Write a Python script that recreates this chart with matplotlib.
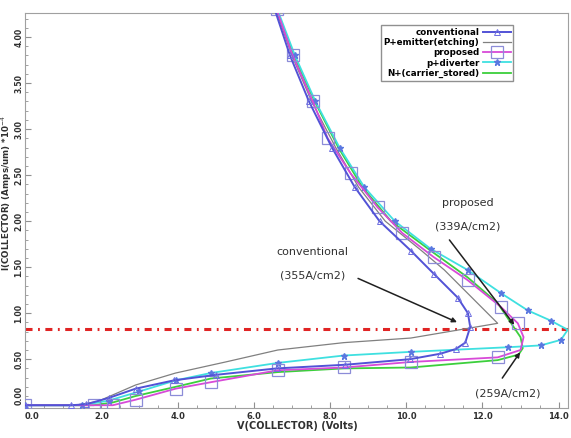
"""
Collector I-V snapback curves for the IGBT variants
"""

import matplotlib
matplotlib.use('Agg')
import matplotlib.pyplot as plt
from matplotlib.ticker import MultipleLocator, FormatStrFormatter

# V(COLLECTOR) in volts, I(COLLECTOR) in 1e-4 A/um, traced low branch -> snapback -> upper branch
conv_v = [0.0, 1.2, 1.6, 2.2, 2.9, 3.9, 5.0, 6.6, 8.4, 10.1, 10.9, 11.3, 11.55,
          11.68, 11.62, 11.35, 10.72, 10.12, 9.3, 8.65, 8.05, 7.45, 6.95, 6.55]
conv_i = [0.0, 0.0, 0.01, 0.08, 0.18, 0.27, 0.33, 0.40, 0.44, 0.50, 0.56, 0.61, 0.68,
          0.85, 1.0, 1.17, 1.43, 1.68, 2.0, 2.37, 2.8, 3.3, 3.8, 4.3]

pemit_v = [0.0, 1.3, 1.9, 2.9, 3.95, 5.26, 6.63, 8.36, 10.12, 12.4,
           11.0, 10.4, 9.45, 8.75, 8.15, 7.52, 7.0, 6.58]
pemit_i = [0.0, 0.0, 0.04, 0.22, 0.35, 0.47, 0.60, 0.68, 0.73, 0.89,
           1.47, 1.68, 2.0, 2.37, 2.8, 3.3, 3.8, 4.3]

prop_v = [0.0, 1.8, 2.3, 2.9, 3.95, 4.87, 6.63, 8.36, 10.12, 12.4, 13.0, 13.08,
          12.93, 12.48, 11.61, 10.72, 9.9, 9.25, 8.54, 7.94, 7.55, 7.02, 6.6]
prop_i = [0.0, 0.0, 0.0, 0.06, 0.18, 0.25, 0.38, 0.41, 0.47, 0.52, 0.60, 0.74,
          0.89, 1.07, 1.36, 1.61, 1.87, 2.15, 2.52, 2.9, 3.3, 3.8, 4.3]

div_v = [0.0, 1.5, 2.19, 3.0, 3.95, 4.87, 6.63, 8.36, 10.12, 12.66, 13.53, 14.06, 14.24,
         13.79, 13.19, 12.48, 11.61, 10.64, 9.7, 8.9, 8.25, 7.62, 7.08, 6.62]
div_i = [0.0, 0.0, 0.05, 0.15, 0.27, 0.35, 0.46, 0.54, 0.58, 0.63, 0.65, 0.71, 0.82,
         0.92, 1.03, 1.22, 1.47, 1.7, 2.0, 2.37, 2.8, 3.3, 3.8, 4.3]

nplus_v = [0.0, 1.8, 2.3, 2.9, 3.95, 4.87, 6.63, 8.36, 10.12, 12.4, 12.95, 13.06,
           13.0, 12.82, 12.4, 11.61, 10.64, 9.6, 8.85, 8.22, 7.6, 7.05, 6.6]
nplus_i = [0.0, 0.0, 0.03, 0.1, 0.2, 0.29, 0.36, 0.40, 0.41, 0.49, 0.55, 0.62,
           0.74, 0.85, 1.11, 1.39, 1.68, 2.0, 2.37, 2.8, 3.3, 3.8, 4.3]

ref_level = 0.83

labels = ['conventional', 'P+emitter(etching)', 'proposed', 'p+diverter', 'N+(carrier_stored)']

# (text, text V, text I, arrow tail V, arrow tail I, arrow head V, arrow head I)
notes = [
  ('conventional\n\n(355A/cm2)', 7.55, 1.54, 8.67, 1.39, 11.40, 0.89),
  ('proposed\n\n(339A/cm2)', 11.62, 2.07, 11.09, 1.82, 12.88, 0.85),
  ('(259A/cm2)', 12.66, 0.13, 12.48, 0.27, 13.03, 0.60),
]

fig = plt.figure(figsize=(5.71, 4.38), dpi=100, facecolor='white')
ax = fig.add_axes([0.044, 0.0685, 0.951, 0.9015])

ax.axhline(ref_level, color='#e02424', lw=2.2, dashes=(2.3, 1.8, 0.6, 1.8), zorder=1)

ax.plot(pemit_v, pemit_i, color='#808080', lw=0.9, label=labels[1], zorder=3)
ax.plot(nplus_v, nplus_i, color='#3ccf3c', lw=1.3, label=labels[4], zorder=3)
ax.plot(div_v, div_i, color='#3fe0e0', lw=1.3, marker='*', ms=5, mfc='#5a78e0', mec='#5a78e0',
        markevery=0.045, label=labels[3], zorder=4)
ax.plot(prop_v, prop_i, color='#d84ad8', lw=1.3, marker='s', ms=8, mfc='none', mec='#8c8cd8',
        mew=0.9, markevery=0.06, label=labels[2], zorder=4)
ax.plot(conv_v, conv_i, color='#5252d6', lw=1.4, marker='^', ms=4, mfc='none', mec='#6e6ee0',
        mew=0.7, markevery=0.025, label=labels[0], zorder=5)

for text, tx, ty, ax0, ay0, ax1, ay1 in notes:
  ax.text(tx, ty, text, fontsize=8, color='#303030', ha='center', va='center', zorder=6)
  ax.annotate('', xy=(ax1, ay1), xytext=(ax0, ay0),
              arrowprops=dict(arrowstyle='-|>', color='#202020', lw=1.1, mutation_scale=7),
              zorder=6)

ax.set_xlim(0, 14.25)
ax.set_ylim(-0.03, 4.26)
ax.xaxis.set_major_locator(MultipleLocator(2))
ax.xaxis.set_minor_locator(MultipleLocator(0.5))
ax.yaxis.set_major_locator(MultipleLocator(0.5))
ax.yaxis.set_minor_locator(MultipleLocator(0.1))
ax.xaxis.set_major_formatter(FormatStrFormatter('%.1f'))
ax.yaxis.set_major_formatter(FormatStrFormatter('%.2f'))
ax.tick_params(which='both', direction='in', color='#909090', labelcolor='#303030')
ax.tick_params(which='major', length=4)
ax.tick_params(which='minor', length=2)
ax.tick_params(axis='x', labelsize=6, pad=3)
ax.tick_params(axis='y', labelsize=5.6, pad=1.2)
fig.canvas.draw()
for lbl in ax.get_xticklabels() + ax.get_yticklabels():
  lbl.set_fontweight('bold')
  if lbl.get_text() == '0.0':
    lbl.set_ha('left')
for lbl in ax.get_yticklabels():
  lbl.set_rotation(90)
  lbl.set_va('bottom' if lbl.get_text() == '0.00' else 'center')
for sp in ax.spines.values():
  sp.set_color('#a0a0a0')

fig.text(0.52, 0.016, 'V(COLLECTOR) (Volts)', fontsize=7, fontweight='bold', color='#303030',
         ha='center', va='bottom')
fig.text(0.0, 0.56, 'I(COLLECTOR) (Amps/um) *10$^{-4}$', fontsize=6.3, fontweight='bold',
         color='#303030', rotation=90, ha='left', va='center')

handles, lbls = ax.get_legend_handles_labels()
order = [lbls.index(n) for n in labels]
leg = ax.legend([handles[k] for k in order], labels, loc='upper right',
                bbox_to_anchor=(0.899, 0.970), borderaxespad=0, markerfirst=False,
                fancybox=False, framealpha=1, edgecolor='#909090', handlelength=3.2,
                handletextpad=0.4, labelspacing=0.15, borderpad=0.3,
                prop={'size': 6.3, 'weight': 'bold'})
leg.get_frame().set_linewidth(1.0)

fig.savefig('out.png', dpi=100)
